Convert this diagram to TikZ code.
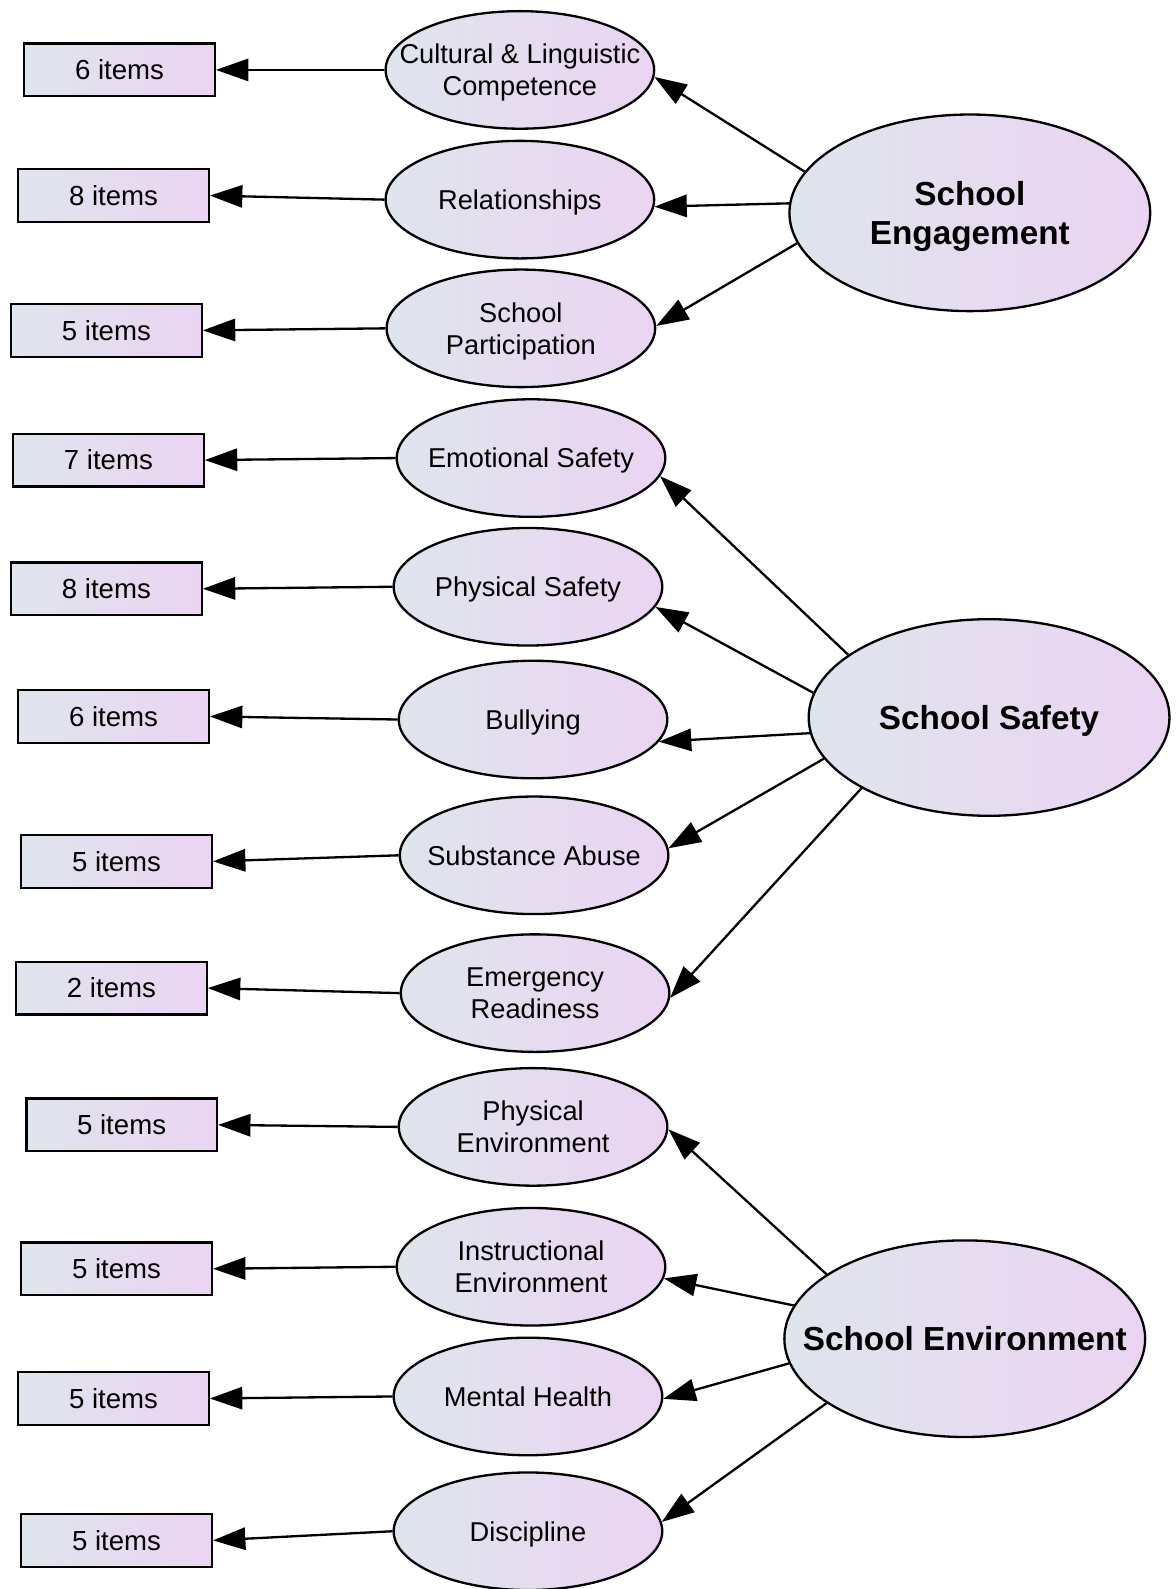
\documentclass[tikz,border=0pt]{standalone}
\usepackage{fontspec}
\setmainfont{Liberation Sans}
\usetikzlibrary{shapes.geometric,arrows.meta,positioning}
\newcommand{\pxu}{0.02cm}
\definecolor{shleft}{RGB}{223,229,237}
\definecolor{shright}{RGB}{235,212,242}
\tikzset{
    itemsty/.style={draw,rectangle,left color=shleft,right color=shright,minimum width=188*\pxu,minimum height=52*\pxu,inner sep=0pt,font=\fontsize{15.5}{18}\selectfont},
    factsty/.style={draw,ellipse,left color=shleft,right color=shright,minimum width=265*\pxu,minimum height=116*\pxu,inner xsep=-0.8cm,inner ysep=0pt,text depth=0pt,align=center,font=\fontsize{15.3}{18.2}\selectfont},
    latsty/.style={draw,ellipse,left color=shleft,right color=shright,minimum width=356*\pxu,minimum height=194*\pxu,inner xsep=-1cm,inner ysep=0pt,text depth=0pt,align=center,font=\bfseries\fontsize{18.7}{21.6}\selectfont},
    pathsty/.style={-{Triangle[length=0.64cm,width=0.44cm]}},
}

\begin{document}
\begin{tikzpicture}[x=\pxu,y=-\pxu,line width=1.3pt]
  \useasboundingbox (0,0) rectangle (1160,1568);

  % indicator boxes
  \node[itemsty] (cultI)  at (118,69)   {6 items};
  \node[itemsty] (relI)   at (112,193)  {8 items};
  \node[itemsty] (partI)  at (105,326)  {5 items};
  \node[itemsty] (emoI)   at (107,454)  {7 items};
  \node[itemsty] (physI)  at (105,581)  {8 items};
  \node[itemsty] (bullI)  at (112,707)  {6 items};
  \node[itemsty] (substI) at (115,850)  {5 items};
  \node[itemsty] (emergI) at (110,975)  {2 items};
  \node[itemsty] (penvI)  at (120,1110) {5 items};
  \node[itemsty] (ienvI)  at (115,1252) {5 items};
  \node[itemsty] (mhI)    at (112,1380) {5 items};
  \node[itemsty] (discI)  at (115,1520) {5 items};

  % first order factors
  \node[factsty] (cult)  at (513,69)   {Cultural \& Linguistic\\Competence};
  \node[factsty] (rel)   at (513,197)  {Relationships};
  \node[factsty] (part)  at (514,324)  {School\\Participation};
  \node[factsty] (emo)   at (524,452)  {Emotional Safety};
  \node[factsty] (phys)  at (521,579)  {Physical Safety};
  \node[factsty] (bull)  at (526,710)  {Bullying};
  \node[factsty] (subst) at (527,844)  {Substance Abuse};
  \node[factsty] (emerg) at (528,980)  {Emergency\\Readiness};
  \node[factsty] (penv)  at (526,1112) {Physical\\Environment};
  \node[factsty] (ienv)  at (524,1250) {Instructional\\Environment};
  \node[factsty] (mh)    at (521,1378) {Mental Health};
  \node[factsty] (disc)  at (521,1511) {Discipline};

  % second order factors
  \node[latsty] (eng) at (957,210)  {School\\Engagement};
  \node[latsty] (saf) at (976,708)  {School Safety};
  \node[latsty] (env) at (952,1321) {School Environment};

  % factor -> items
  \draw[pathsty] (cult.west)  -- (cultI.east);
  \draw[pathsty] (rel.west)   -- (relI.east);
  \draw[pathsty] (part.west)  -- (partI.east);
  \draw[pathsty] (emo.west)   -- (emoI.east);
  \draw[pathsty] (phys.west)  -- (physI.east);
  \draw[pathsty] (bull.west)  -- (bullI.east);
  \draw[pathsty] (subst.west) -- (substI.east);
  \draw[pathsty] (emerg.west) -- (emergI.east);
  \draw[pathsty] (penv.west)  -- (penvI.east);
  \draw[pathsty] (ienv.west)  -- (ienvI.east);
  \draw[pathsty] (mh.west)    -- (mhI.east);
  \draw[pathsty] (disc.west)  -- (discI.east);

  % second order -> first order
  \draw[pathsty] (eng.166) -- (cult.-3);
  \draw[pathsty] (eng.177) -- (rel.-3);
  \draw[pathsty] (eng.190) -- (part.1);

  \draw[pathsty] (saf.156) -- (emo.-8);
  \draw[pathsty] (saf.172) -- (phys.-9);
  \draw[pathsty] (saf.185) -- (bull.-10);
  \draw[pathsty] (saf.194) -- (subst.3);
  \draw[pathsty] (saf.209) -- (emerg.-2);

  \draw[pathsty] (env.155) -- (penv.-1);
  \draw[pathsty] (env.169) -- (ienv.-5);
  \draw[pathsty] (env.188) -- (mh.-1);
  \draw[pathsty] (env.205) -- (disc.4);
\end{tikzpicture}
\end{document}
